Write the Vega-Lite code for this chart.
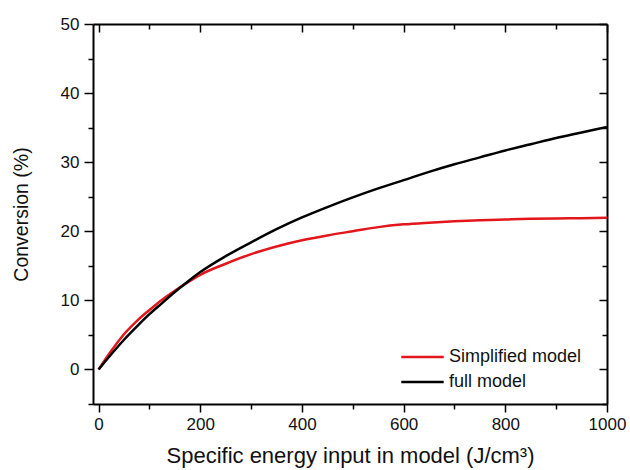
{
  "$schema": "https://vega.github.io/schema/vega-lite/v6.json",
  "autosize": {"type": "none"},
  "width": 514,
  "height": 380,
  "padding": {"left": 93, "top": 24, "right": 23, "bottom": 66},
  "background": "white",
  "config": {
    "font": "Liberation Sans",
    "view": {"stroke": null},
    "axis": {
      "domainColor": "black",
      "domainWidth": 2,
      "tickColor": "black",
      "tickWidth": 1.5,
      "labelColor": "#111111",
      "titleColor": "#111111",
      "labelFont": "Liberation Sans",
      "titleFont": "Liberation Sans",
      "labelFontSize": 17,
      "titleFontWeight": "normal",
      "grid": false
    }
  },
  "data": {
    "values": [
      {"e": 0, "c": 0, "model": "Simplified model"},
      {"e": 25, "c": 2.7, "model": "Simplified model"},
      {"e": 50, "c": 5.1, "model": "Simplified model"},
      {"e": 75, "c": 7.0, "model": "Simplified model"},
      {"e": 100, "c": 8.6, "model": "Simplified model"},
      {"e": 125, "c": 10.1, "model": "Simplified model"},
      {"e": 150, "c": 11.4, "model": "Simplified model"},
      {"e": 175, "c": 12.6, "model": "Simplified model"},
      {"e": 200, "c": 13.7, "model": "Simplified model"},
      {"e": 250, "c": 15.3, "model": "Simplified model"},
      {"e": 300, "c": 16.7, "model": "Simplified model"},
      {"e": 350, "c": 17.8, "model": "Simplified model"},
      {"e": 400, "c": 18.7, "model": "Simplified model"},
      {"e": 450, "c": 19.4, "model": "Simplified model"},
      {"e": 500, "c": 20.0, "model": "Simplified model"},
      {"e": 550, "c": 20.6, "model": "Simplified model"},
      {"e": 600, "c": 21.0, "model": "Simplified model"},
      {"e": 650, "c": 21.25, "model": "Simplified model"},
      {"e": 700, "c": 21.45, "model": "Simplified model"},
      {"e": 750, "c": 21.6, "model": "Simplified model"},
      {"e": 800, "c": 21.7, "model": "Simplified model"},
      {"e": 850, "c": 21.8, "model": "Simplified model"},
      {"e": 900, "c": 21.85, "model": "Simplified model"},
      {"e": 950, "c": 21.9, "model": "Simplified model"},
      {"e": 1000, "c": 21.95, "model": "Simplified model"},
      {"e": 0, "c": 0, "model": "full model"},
      {"e": 25, "c": 2.2, "model": "full model"},
      {"e": 50, "c": 4.3, "model": "full model"},
      {"e": 75, "c": 6.2, "model": "full model"},
      {"e": 100, "c": 8.0, "model": "full model"},
      {"e": 125, "c": 9.6, "model": "full model"},
      {"e": 150, "c": 11.2, "model": "full model"},
      {"e": 175, "c": 12.7, "model": "full model"},
      {"e": 200, "c": 14.1, "model": "full model"},
      {"e": 250, "c": 16.4, "model": "full model"},
      {"e": 300, "c": 18.4, "model": "full model"},
      {"e": 350, "c": 20.3, "model": "full model"},
      {"e": 400, "c": 22.0, "model": "full model"},
      {"e": 450, "c": 23.5, "model": "full model"},
      {"e": 500, "c": 24.9, "model": "full model"},
      {"e": 550, "c": 26.2, "model": "full model"},
      {"e": 600, "c": 27.4, "model": "full model"},
      {"e": 650, "c": 28.6, "model": "full model"},
      {"e": 700, "c": 29.7, "model": "full model"},
      {"e": 750, "c": 30.7, "model": "full model"},
      {"e": 800, "c": 31.7, "model": "full model"},
      {"e": 850, "c": 32.6, "model": "full model"},
      {"e": 900, "c": 33.5, "model": "full model"},
      {"e": 950, "c": 34.3, "model": "full model"},
      {"e": 1000, "c": 35.1, "model": "full model"}
    ]
  },
  "layer": [
    {
      "mark": {"type": "line", "strokeWidth": 2.5, "interpolate": "monotone", "clip": true},
      "encoding": {
        "x": {
          "field": "e", "type": "quantitative",
          "scale": {"domain": [-11, 1000], "nice": false, "zero": false},
          "axis": {
            "orient": "bottom",
            "title": "Specific energy input in model (J/cm³)",
            "titleFontSize": 22,
            "format": "d",
            "values": [0, 100, 200, 300, 400, 500, 600, 700, 800, 900, 1000],
            "labelExpr": "datum.value % 200 === 0 ? datum.label : ''",
            "tickSize": {"condition": {"test": "datum.value % 200 === 0", "value": 8}, "value": 5},
            "labelPadding": 4,
            "labelFlush": false,
            "labelOverlap": false,
            "titlePadding": 13
          }
        },
        "y": {
          "field": "c", "type": "quantitative",
          "scale": {"domain": [-5, 50], "nice": false, "zero": false},
          "axis": {
            "orient": "left",
            "title": "Conversion (%)",
            "titleFontSize": 19.5,
            "format": "d",
            "values": [-5, 0, 5, 10, 15, 20, 25, 30, 35, 40, 45, 50],
            "labelExpr": "datum.value % 10 === 0 ? datum.label : ''",
            "tickSize": {"condition": {"test": "datum.value % 10 === 0", "value": 9}, "value": 5},
            "labelPadding": 5,
            "labelFlush": false,
            "labelOverlap": false,
            "titlePadding": 29
          }
        },
        "color": {
          "field": "model", "type": "nominal",
          "scale": {"domain": ["Simplified model", "full model"], "range": ["#e3161b", "#000000"]},
          "legend": {
            "title": null,
            "orient": "none",
            "legendX": 307,
            "legendY": 323,
            "symbolType": "stroke",
            "symbolSize": 1800,
            "symbolStrokeWidth": 2.5,
            "clipHeight": 20,
            "labelFontSize": 18,
            "labelFont": "Liberation Sans",
            "labelColor": "#111111",
            "labelOffset": 4,
            "rowPadding": 5
          }
        }
      }
    },
    {
      "mark": {"type": "point", "opacity": 0},
      "encoding": {
        "x": {
          "field": "e", "type": "quantitative",
          "axis": {
            "orient": "top",
            "title": null,
            "labels": false,
            "ticks": false,
            "grid": true,
            "gridColor": "black",
            "gridWidth": 1.5,
            "gridOpacity": 1,
            "values": [0, 100, 200, 300, 400, 500, 600, 700, 800, 900, 1000],
            "gridDash": {"condition": {"test": "datum.value % 200 === 0", "value": [0, 372, 8, 2000]}, "value": [0, 375, 5, 2000]}
          }
        },
        "y": {
          "field": "c", "type": "quantitative",
          "axis": {
            "orient": "right",
            "title": null,
            "labels": false,
            "ticks": false,
            "grid": true,
            "gridColor": "black",
            "gridWidth": 1.5,
            "gridOpacity": 1,
            "values": [-5, 0, 5, 10, 15, 20, 25, 30, 35, 40, 45, 50],
            "gridDash": {"condition": {"test": "datum.value % 10 === 0", "value": [8, 2000]}, "value": [5, 2000]}
          }
        }
      }
    }
  ],
  "resolve": {"axis": {"x": "independent", "y": "independent"}}
}
